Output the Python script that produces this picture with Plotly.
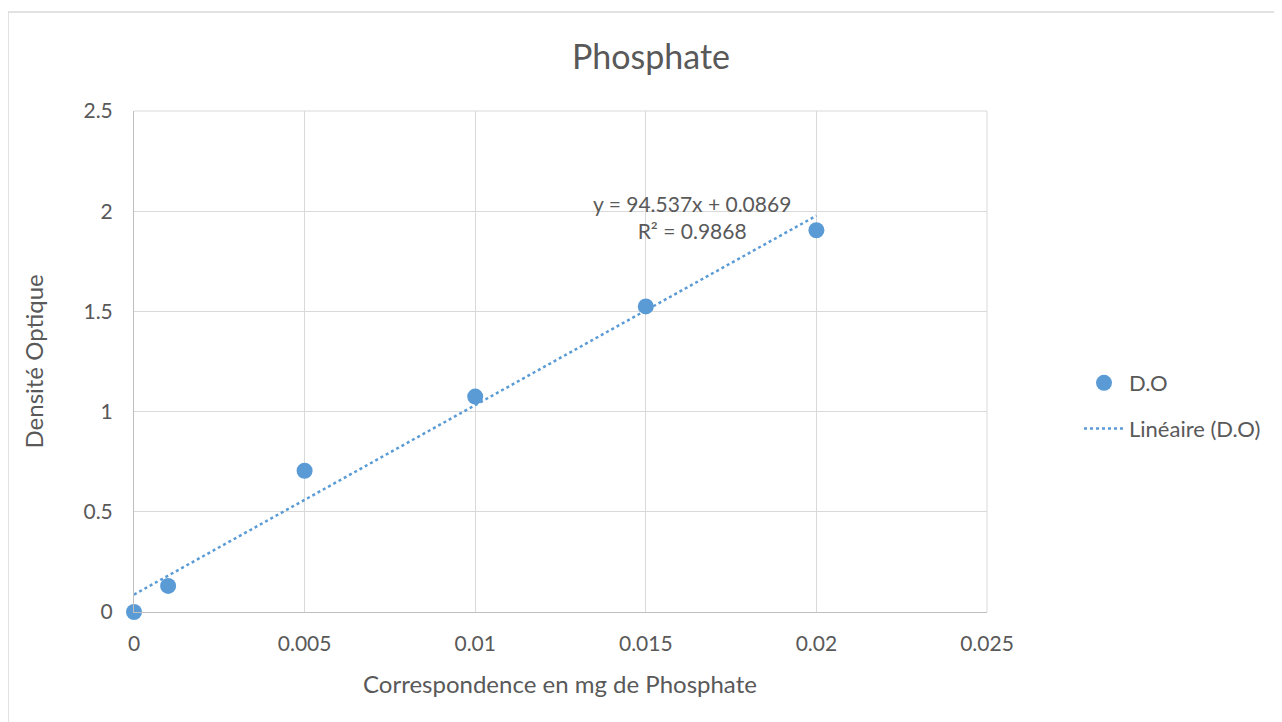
'''
    Phosphate calibration curve: optical density vs mg of phosphate.
'''
import plotly.graph_objects as go

# Measured points
mg_phosphate = [0, 0.001, 0.005, 0.01, 0.015, 0.02]
densite_optique = [0.0, 0.13, 0.705, 1.075, 1.525, 1.905]

# Linear trendline shown on the chart
slope = 94.537
intercept = 0.0869
r_squared = 0.9868
trend_x = [0, 0.02]

BLUE = '#5b9bd5'
TEXT = '#595959'
GRID = '#d9d9d9'
FONT = 'Lato, Open Sans, sans-serif'

# the page body adds an 8px offset, so positions are in figure pixels
W, H = 1282, 722
L, R, T, B = 126, 979, 103, 604


def px_x(p):
    return (p - L) / (R - L)


def px_y(p):
    return (B - p) / (B - T)


fig = go.Figure()

fig.add_trace(go.Scatter(
    x=mg_phosphate, y=densite_optique,
    mode='markers', name='D.O', legendgroup='a', cliponaxis=False,
    marker=dict(color=BLUE, size=16)))

fig.add_trace(go.Scatter(
    x=trend_x, y=[slope * x + intercept for x in trend_x],
    mode='lines', name='Linéaire (D.O)', legendgroup='b',
    line=dict(color=BLUE, width=2.5, dash='dot')))

fig.update_layout(
    width=W, height=H,
    margin=dict(l=L, r=W - R, t=T, b=H - B),
    paper_bgcolor='white', plot_bgcolor='white',
    font=dict(family=FONT, size=21, color=TEXT),
    title=dict(text='Phosphate', x=643 / W, xanchor='center',
               y=1 - 49 / H, yanchor='middle',
               font=dict(size=34, color=TEXT)),
    legend=dict(x=px_x(1071), y=px_y(398), xanchor='left', yanchor='middle',
                font=dict(size=22, color=TEXT), tracegroupgap=14,
                itemwidth=40),
    showlegend=True,
)

fig.update_xaxes(
    range=[0, 0.025], dtick=0.005, tickformat='~g',
    showgrid=True, gridcolor=GRID, gridwidth=1,
    showline=True, linecolor='#bfbfbf', linewidth=1,
    zeroline=False, ticks='', ticklabelstandoff=13)

fig.update_yaxes(
    range=[0, 2.5], dtick=0.5, tickformat='~g',
    showgrid=True, gridcolor=GRID, gridwidth=1,
    showline=True, linecolor='#bfbfbf', linewidth=1,
    zeroline=False, ticks='', ticklabelstandoff=16)

# right and top gridlines at the range edges
fig.add_shape(type='line', xref='paper', yref='paper', x0=1, x1=1, y0=0, y1=1,
              line=dict(color=GRID, width=1))
fig.add_shape(type='line', xref='paper', yref='paper', x0=0, x1=1, y0=1, y1=1,
              line=dict(color=GRID, width=1))

# chart border
fig.add_shape(type='rect', xref='paper', yref='paper',
              x0=px_x(0), x1=px_x(1300), y0=px_y(740), y1=px_y(4),
              line=dict(color='#d9d9d9', width=1.5), layer='below')

# axis titles
fig.add_annotation(
    xref='paper', yref='paper', x=px_x(552), y=px_y(675),
    xanchor='center', yanchor='middle', showarrow=False,
    text='Correspondence en mg de Phosphate', font=dict(size=24, color=TEXT))
fig.add_annotation(
    xref='paper', yref='paper', x=px_x(25), y=0.5,
    xanchor='center', yanchor='middle', showarrow=False, textangle=-90,
    text='Densité Optique', font=dict(size=24, color=TEXT))

# trendline equation
fig.add_annotation(
    xref='paper', yref='paper', x=px_x(684), y=px_y(209),
    xanchor='center', yanchor='middle',
    text=f'y = {slope}x + {intercept}<br>R² = {r_squared}',
    showarrow=False, align='center', font=dict(size=21, color=TEXT))

fig.write_html('out.html')
